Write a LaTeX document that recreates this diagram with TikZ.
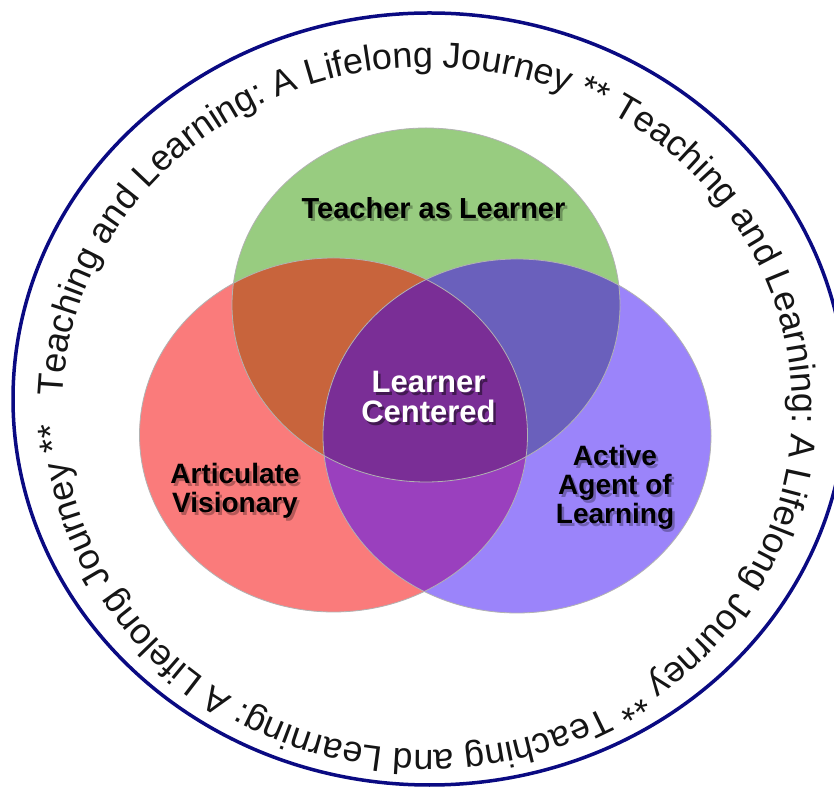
\documentclass[tikz,border=0pt]{standalone}
\usepackage{fontspec}
\setmainfont{Liberation Sans}
\usetikzlibrary{decorations.text}
\definecolor{ringblue}{HTML}{0A0A82}
\definecolor{cred}{HTML}{FA7B7B}
\definecolor{cgreen}{HTML}{98CC80}
\definecolor{cblue}{HTML}{9B84FA}
\definecolor{crg}{HTML}{C8643C}
\definecolor{cgb}{HTML}{6A60BC}
\definecolor{crb}{HTML}{9A40BE}
\definecolor{cmid}{HTML}{7A2E96}
\definecolor{ringtext}{HTML}{151515}
\newcommand{\ringfont}{\fontsize{36}{36}\selectfont\color{ringtext}}
\tikzset{
  lbl/.style={font=\bfseries\fontsize{28}{29}\selectfont, align=center, inner sep=0pt},
  shd/.style={lbl, text=black, opacity=0.28},
  edge/.style={draw=black!30, line width=0.8pt},
  venn/.style={x radius=194pt, y radius=177pt}
}
\begin{document}
\begin{tikzpicture}[x=1pt,y=1pt]
\useasboundingbox (0,0) rectangle (834,797);
\fill[white] (0,0) rectangle (834,797);
% outer ring
\draw[ringblue, line width=3.5pt] (429.5,398) ellipse [x radius=416.5pt, y radius=386pt];
% ring text
\path[decorate, decoration={text along path, text format delimiters={|}{|},
  text={|\ringfont|Teaching and Learning: A Lifelong Journey ** Teaching and Learning: A Lifelong Journey ** Teaching and Learning: A Lifelong Journey **}}]
  (62.8,400.4) arc[start angle=178, end angle=-182, x radius=365pt, y radius=341.5pt];
% venn fills
\fill[cred] (333.5,362) ellipse [venn];
\fill[cgreen] (426,492) ellipse [venn];
\fill[cblue] (517,361) ellipse [venn];
\begin{scope}
  \clip (333.5,362) ellipse [venn];
  \fill[crg] (426,492) ellipse [venn];
\end{scope}
\begin{scope}
  \clip (426,492) ellipse [venn];
  \fill[cgb] (517,361) ellipse [venn];
\end{scope}
\begin{scope}
  \clip (333.5,362) ellipse [venn];
  \fill[crb] (517,361) ellipse [venn];
\end{scope}
\begin{scope}
  \clip (333.5,362) ellipse [venn];
  \clip (426,492) ellipse [venn];
  \fill[cmid] (517,361) ellipse [venn];
\end{scope}
\draw[edge] (333.5,362) ellipse [venn];
\draw[edge] (426,492) ellipse [venn];
\draw[edge] (517,361) ellipse [venn];
% labels with shadows
\node[shd, font=\bfseries\fontsize{29}{30}\selectfont] (tls1) at (436,586) {Teacher as Learner};
\node[lbl, font=\bfseries\fontsize{29}{30}\selectfont] (tl) at (433.5,589) {Teacher as Learner};

\node[shd, opacity=0.45, font=\bfseries\fontsize{31}{30}\selectfont] (lcs1) at (431,397) {Learner\\Centered};
\node[lbl, text=white, font=\bfseries\fontsize{31}{30}\selectfont] (lc) at (428.5,400) {Learner\\Centered};

\node[shd] (avs1) at (237.5,303) {Articulate\\Visionary};
\node[lbl] (av) at (235,306) {Articulate\\Visionary};

\node[shd] (aas1) at (617.5,307) {Active\\Agent of\\Learning};
\node[lbl] (aa) at (615,310) {Active\\Agent of\\Learning};
\end{tikzpicture}
\end{document}
